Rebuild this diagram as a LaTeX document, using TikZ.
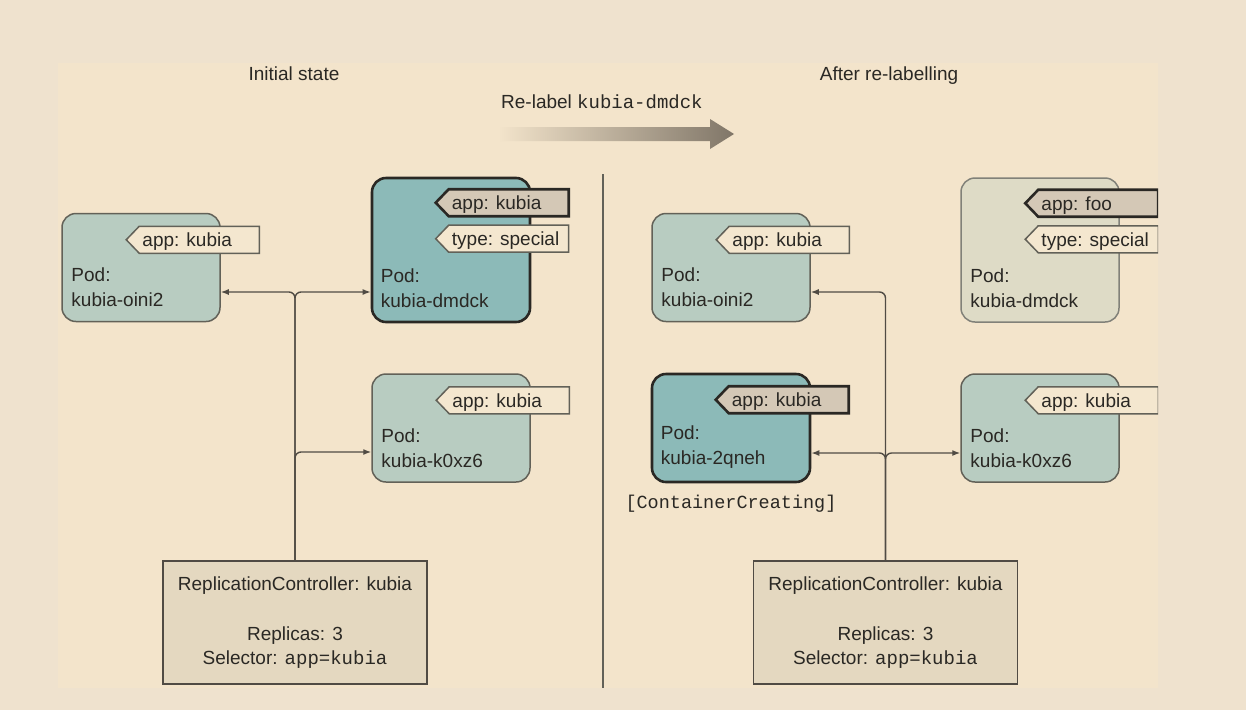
\documentclass[tikz,border=0pt]{standalone}
\usepackage{fontspec}
\setmainfont{Liberation Sans}
\setmonofont{Liberation Mono}
\usetikzlibrary{arrows.meta}
\usetikzlibrary{calc}
\usetikzlibrary{positioning}
\definecolor{outerbg}{RGB}{239,226,206}
\definecolor{panelbg}{RGB}{243,228,203}
\definecolor{podlight}{RGB}{184,204,193}
\definecolor{poddark}{RGB}{140,186,184}
\definecolor{podgone}{RGB}{222,219,198}
\definecolor{tagdark}{RGB}{212,200,182}
\definecolor{tagpale}{RGB}{244,231,207}
\definecolor{rcfill}{RGB}{228,216,192}
\definecolor{ink}{RGB}{42,40,36}
\definecolor{wire}{RGB}{80,75,68}
\definecolor{edge}{RGB}{98,97,88}
\definecolor{arrowgray}{RGB}{128,118,104}
\newcommand*{\podfont}{\fontsize{19}{24}\selectfont}
\tikzset{
    pod/.style={draw=edge, line width=1.5pt, fill=podlight, rounded corners=14pt,
        minimum width=158pt, minimum height=108pt, inner sep=0pt},
    podnew/.style={pod, draw=ink, line width=2.6pt, fill=poddark},
    podgone/.style={pod, draw=edge!80, fill=podgone},
    podtext/.style={anchor=south west, inner sep=0pt, align=left, text=ink,
        font=\fontsize{19}{25}\selectfont},
    tagline/.style={draw=edge, line width=1.5pt, fill=tagpale},
    tagnew/.style={draw=ink, line width=2.6pt, fill=tagdark},
    tagtext/.style={anchor=base west, inner sep=0pt, text=ink, font=\podfont},
    rcbox/.style={draw=wire, line width=1.5pt, fill=rcfill, minimum width=264pt,
        minimum height=123pt, align=center, text=ink, font=\podfont},
    wire/.style={draw=wire, line width=1.4pt, rounded corners=6pt,
        -{Latex[length=8pt,width=6pt]}},
    divider/.style={draw=edge, line width=1.3pt},
    heading/.style={anchor=base, inner sep=0pt, text=ink, font=\podfont}
}
% label tag: [style] {pod} {offset from top} {text}
\newcommand{\podtag}[4][tagline]{%
    \draw[#1] ($(#2.north west)+(65,#3)$) -- ++(13,-13.5) -- ++(120,0)
        -- ++(0,27) -- ++(-120,0) -- cycle;
    \node[tagtext] at ($(#2.north west)+(81,#3+7)$) {#4};
}

\begin{document}
\begin{tikzpicture}[x=1pt, y=-1pt]
    \fill[outerbg] (0,0) rectangle (1246,710);
    \useasboundingbox (0,0) rectangle (1246,710);
    \fill[panelbg] (58,63) rectangle (1158,688);
    \begin{scope}
    \clip (58,63) rectangle (1158,688);

    % headings
    \node[heading] (initial) at (294,80) {Initial state};
    \node[heading] (after) at (889,80) {After re-labelling};
    \node[tagtext] (relabel) at (501,108) {Re-label \texttt{kubia-dmdck}};
    \shade[left color=panelbg, middle color=arrowgray!80!panelbg, right color=arrowgray]
        (498,127) -- (710,127) -- (710,119) -- (734,134) -- (710,149)
        -- (710,141) -- (498,141) -- cycle;
    \draw[divider] (603,174) -- (603,688);

    % before
    \node[pod] (oiniL) at (141,267.5) {};
    \node[podnew, minimum height=144pt] (dmdckL) at (451,250) {};
    \node[pod] (k0xz6L) at (451,428) {};
    \podtag{oiniL}{27}{app: kubia}
    \podtag[tagnew]{dmdckL}{26}{app: kubia}
    \podtag{dmdckL}{62}{type: special}
    \podtag{k0xz6L}{27}{app: kubia}
    \node[podtext] (oiniLtxt) at ($(oiniL.south west)+(10,-15)$) {Pod:\\kubia-oini2};
    \node[podtext] (dmdckLtxt) at ($(dmdckL.south west)+(10,-15)$) {Pod:\\kubia-dmdck};
    \node[podtext] (k0xz6Ltxt) at ($(k0xz6L.south west)+(10,-15)$) {Pod:\\kubia-k0xz6};
    \node[rcbox] (rcL) at (295,622.5)
        {ReplicationController: kubia\\[26pt]Replicas: 3\\Selector: \texttt{app=kubia}};
    \coordinate (jL) at (295,292);
    \coordinate (bL) at (295,452);
    \draw[wire] (rcL.north) |- (jL -| oiniL.east);
    \draw[wire] (rcL.north) |- (jL -| dmdckL.west);
    \draw[wire] (rcL.north) |- (bL -| k0xz6L.west);

    % after
    \node[pod] (oiniR) at (731,267.5) {};
    \node[podgone, minimum height=144pt] (dmdckR) at (1040,250) {};
    \node[podnew] (qnehR) at (731,428) {};
    \node[pod] (k0xz6R) at (1040,428) {};
    \podtag{oiniR}{27}{app: kubia}
    \podtag[tagnew]{dmdckR}{26}{app: foo}
    \podtag{dmdckR}{62}{type: special}
    \podtag[tagnew]{qnehR}{27}{app: kubia}
    \podtag{k0xz6R}{27}{app: kubia}
    \node[podtext] (oiniRtxt) at ($(oiniR.south west)+(10,-15)$) {Pod:\\kubia-oini2};
    \node[podtext] (dmdckRtxt) at ($(dmdckR.south west)+(10,-15)$) {Pod:\\kubia-dmdck};
    \node[podtext] (qnehRtxt) at ($(qnehR.south west)+(10,-15)$) {Pod:\\kubia-2qneh};
    \node[podtext] (k0xz6Rtxt) at ($(k0xz6R.south west)+(10,-15)$) {Pod:\\kubia-k0xz6};
    \node[heading, font=\ttfamily\fontsize{18.5}{24}\selectfont] (creating)
        at ($(qnehR.south)+(0,25)$) {[ContainerCreating]};
    \node[rcbox] (rcR) at (885.5,622.5)
        {ReplicationController: kubia\\[26pt]Replicas: 3\\Selector: \texttt{app=kubia}};
    \coordinate (jR) at (885,292);
    \coordinate (bR) at (885,453);
    \draw[wire] (rcR.north) |- (jR -| oiniR.east);
    \draw[wire] (rcR.north) |- (bR -| qnehR.east);
    \draw[wire] (rcR.north) |- (bR -| k0xz6R.west);
    \end{scope}
\end{tikzpicture}
\end{document}
